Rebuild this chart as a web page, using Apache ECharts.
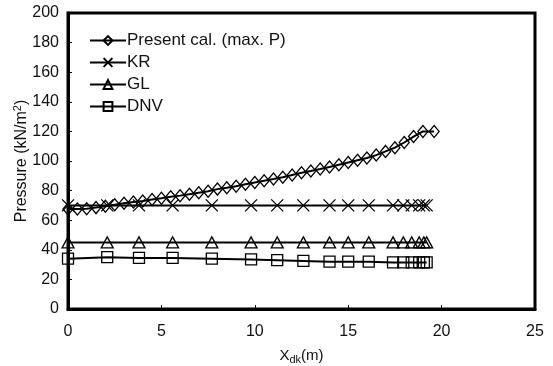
<!DOCTYPE html>
<html><head><meta charset="utf-8">
<script src="https://cdn.jsdelivr.net/npm/echarts@6/dist/echarts.min.js"></script>
<style>html,body{margin:0;padding:0;background:#fff}#c{width:553px;height:366px}</style>
</head><body><div id="c"></div>
<script>
const presentX = [0,0.5,1,1.5,2,2.5,3,3.5,4,4.5,5,5.5,6,6.5,7,7.5,8,8.5,9,9.5,10,10.5,11,11.5,12,12.5,13,13.5,14,14.5,15,15.5,16,16.5,17,17.5,18,18.5,19,19.6];
const presentP = [67.5,67.5,67.8,68.5,69.5,70.5,71.5,72.3,73,74,74.8,75.8,76.6,77.6,78.6,79.5,81,82,83,84.3,85.5,86.7,87.8,89,90.5,92,93.3,94.6,96,97.5,99,100.5,102,104,106.5,109,112.5,116.5,120,120];
const ruleX = [0,2.1,3.8,5.6,7.7,9.8,11.2,12.6,14.0,15.0,16.1,17.4,17.95,18.4,18.8,19.05,19.2];
const krP  = [70,70,70,70,70,70,70,70,70,70,70,70,70,70,70,70,70];
const glP  = [45,45,45,45,45,45,45,45,45,45,45,45,45,45,45,45,45];
const dnvP = [34,35,34.5,34.5,34,33.5,33,32.5,32,32,32,31.5,31.5,31.5,31.5,31.5,31.5];
const seriesNames = ['Present cal. (max. P)','KR','GL','DNV'];
const xTicks = {min:0,max:25,interval:5};
const yTicks = {min:0,max:200,interval:20};

function pairs(xs, ys){ return xs.map((x,i)=>[x, ys[i]]); }
const FONT = 'Liberation Sans';
const crossPath = 'path://M0,0L10,10M10,0L0,10';
function mk(name, data, symbol, size){
  return {
    name, type:'line', data, symbol, symbolSize:size, showSymbol:true,
    lineStyle:{color:'#000', width:2},
    itemStyle:{color:'rgba(255,255,255,0)', borderColor:'#000', borderWidth:1.3},
    emphasis:{disabled:true}, animation:false
  };
}
const chart = echarts.init(document.getElementById('c'));
chart.setOption({
  backgroundColor:'#fff',
  animation:false,
  grid:{left:68, right:18, top:13, bottom:57, containLabel:false, outerBoundsMode:'none', show:true, borderColor:'#000', borderWidth:3, backgroundColor:'transparent'},
  legend:{
    orient:'vertical', left:84, top:27, itemGap:5, itemWidth:36, itemHeight:11,
    textStyle:{fontFamily:FONT, fontSize:17, color:'#111', padding:[0,0,0,-4]},
    data: seriesNames
  },
  xAxis:{
    type:'value', min:xTicks.min, max:xTicks.max, interval:xTicks.interval,
    name:'{a|X}{s|dk}{a|(m)}', nameLocation:'middle', nameGap:37, nameMoveOverlap:false,
    nameTextStyle:{rich:{a:{fontFamily:FONT,fontSize:15,color:'#111'}, s:{fontFamily:FONT,fontSize:11,color:'#111',verticalAlign:'bottom',padding:[8,0,0,0]}}},
    axisLine:{show:true, lineStyle:{color:'#000', width:3}},
    axisTick:{show:true, inside:true, length:4, lineStyle:{color:'#000'}},
    axisLabel:{fontFamily:FONT, fontSize:16, color:'#111', margin:15},
    splitLine:{show:false}
  },
  yAxis:{
    type:'value', min:yTicks.min, max:yTicks.max, interval:yTicks.interval,
    name:'{a|Pressure (kN/m}{s|2}{a|)}', nameLocation:'middle', nameGap:36, nameRotate:90, nameMoveOverlap:false,
    nameTextStyle:{rich:{a:{fontFamily:FONT,fontSize:16,color:'#111'}, s:{fontFamily:FONT,fontSize:11,color:'#111',verticalAlign:'top',padding:[0,0,9,0]}}},
    axisLine:{show:true, lineStyle:{color:'#000', width:3}},
    axisTick:{show:true, inside:true, length:4, lineStyle:{color:'#000'}},
    axisLabel:{fontFamily:FONT, fontSize:16, color:'#111', margin:9},
    splitLine:{show:false}
  },
  series:[
    mk(seriesNames[0], pairs(presentX,presentP), 'diamond', [10,12]),
    mk(seriesNames[1], pairs(ruleX,krP), crossPath, 12),
    mk(seriesNames[2], pairs(ruleX,glP), 'triangle', [12,11]),
    mk(seriesNames[3], pairs(ruleX,dnvP), 'rect', 11)
  ]
});
</script></body></html>
